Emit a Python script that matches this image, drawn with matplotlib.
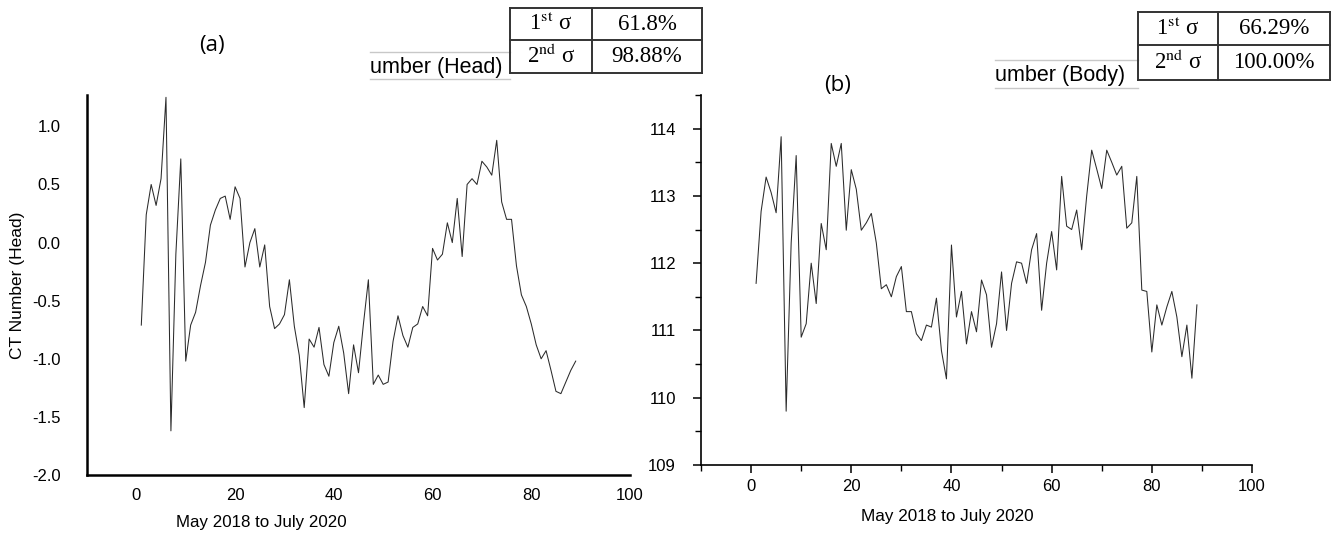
import matplotlib
matplotlib.use("Agg")
import matplotlib.pyplot as plt
from matplotlib.lines import Line2D
from matplotlib.ticker import MultipleLocator

plt.rcParams['font.family'] = ['Liberation Sans', 'DejaVu Sans']
plt.rcParams['mathtext.fontset'] = 'stix'

# ---------------- data ----------------
months = list(range(1, 90))

head_ct = [-0.71, 0.24, 0.50, 0.32, 0.55, 1.25, -1.62, -0.10, 0.72, -1.02,
           -0.71, -0.60, -0.37, -0.17, 0.15, 0.28, 0.38, 0.40, 0.20, 0.48,
           0.38, -0.21, 0.00, 0.12, -0.21, -0.02, -0.55, -0.74, -0.70, -0.62,
           -0.32, -0.72, -0.97, -1.42, -0.83, -0.90, -0.73, -1.05, -1.15, -0.86,
           -0.72, -0.95, -1.30, -0.88, -1.12, -0.70, -0.32, -1.22, -1.14, -1.22,
           -1.20, -0.85, -0.63, -0.80, -0.90, -0.73, -0.70, -0.55, -0.63, -0.05,
           -0.15, -0.10, 0.17, 0.00, 0.38, -0.12, 0.50, 0.55, 0.50, 0.70,
           0.65, 0.58, 0.88, 0.35, 0.20, 0.20, -0.20, -0.45, -0.55, -0.70,
           -0.88, -1.00, -0.93, -1.10, -1.28, -1.30, -1.20, -1.10, -1.02]

body_ct = [111.70, 112.77, 113.28, 113.05, 112.75, 113.88, 109.80, 112.30, 113.60, 110.90,
           111.10, 112.00, 111.40, 112.59, 112.20, 113.78, 113.44, 113.78, 112.49, 113.39,
           113.10, 112.49, 112.60, 112.74, 112.30, 111.62, 111.68, 111.50, 111.80, 111.95,
           111.28, 111.28, 110.95, 110.85, 111.08, 111.05, 111.48, 110.70, 110.28, 112.27,
           111.20, 111.58, 110.80, 111.28, 110.98, 111.75, 111.53, 110.75, 111.10, 111.87,
           111.00, 111.70, 112.02, 112.00, 111.70, 112.20, 112.44, 111.30, 112.00, 112.47,
           111.90, 113.29, 112.55, 112.50, 112.79, 112.20, 113.00, 113.68, 113.40, 113.11,
           113.68, 113.50, 113.31, 113.44, 112.52, 112.60, 113.29, 111.60, 111.58, 110.68,
           111.38, 111.08, 111.35, 111.58, 111.20, 110.61, 111.08, 110.29, 111.38]

x_label = "May 2018 to July 2020"
y_label_head = "CT Number (Head)"
head_table = [["1$^{\\rm st}$ σ", "61.8%"], ["2$^{\\rm nd}$ σ", "98.88%"]]
body_table = [["1$^{\\rm st}$ σ", "66.29%"], ["2$^{\\rm nd}$ σ", "100.00%"]]

# ---------------- figure ----------------
W, H = 1333, 535
fig = plt.figure(figsize=(W / 100, H / 100), dpi=100)


def fx(px):
    return px / W


def fy(py):
    return 1 - py / H


line_kw = dict(color='#2b2b2b', lw=0.75)

# ----- panel (a) -----
axa = fig.add_axes([fx(87), fy(475), fx(630) - fx(87), fy(95) - fy(475)])
axa.plot(months, head_ct, **line_kw)
axa.set_xlim(-10, 100)
axa.set_ylim(-2.0, 1.27)
axa.set_xticks([0, 20, 40, 60, 80, 100])
axa.set_yticks([-2.0, -1.5, -1.0, -0.5, 0.0, 0.5, 1.0])
axa.set_yticklabels(["-2.0", "-1.5", "-1.0", "-0.5", "0.0", "0.5", "1.0"])
for s in ['top', 'right']:
    axa.spines[s].set_visible(False)
for s in ['left', 'bottom']:
    axa.spines[s].set_linewidth(1.8)
axa.tick_params(axis='both', length=0, labelsize=12)
axa.tick_params(axis='y', pad=19)
axa.tick_params(axis='x', pad=9)

fig.text(fx(261), fy(522), x_label, ha='center', va='center', fontsize=12.2)
fig.text(fx(18), fy(285), y_label_head, ha='center', va='center',
         rotation=90, fontsize=12.5)

# ----- panel (b) -----
axb = fig.add_axes([fx(701), fy(465), fx(1252) - fx(701), fy(95) - fy(465)])
axb.plot(months, body_ct, **line_kw)
axb.set_xlim(-10, 100)
axb.set_ylim(109, 114.5)
axb.set_xticks([0, 20, 40, 60, 80, 100])
axb.xaxis.set_minor_locator(MultipleLocator(10))
axb.yaxis.set_major_locator(MultipleLocator(1))
axb.yaxis.set_minor_locator(MultipleLocator(0.5))
for s in ['top', 'right']:
    axb.spines[s].set_visible(False)
for s in ['left', 'bottom']:
    axb.spines[s].set_linewidth(1.2)
axb.tick_params(axis='both', which='major', length=6, width=1.1,
                direction='out', labelsize=12)
axb.tick_params(axis='both', which='minor', length=4, width=1.0, direction='out')
axb.tick_params(axis='y', which='major', pad=12)
axb.tick_params(axis='x', which='major', pad=4)

fig.text(fx(947), fy(516), x_label, ha='center', va='center', fontsize=12.3)

# ----- panel letters -----
fig.text(fx(212), fy(45), "(a)", ha='center', va='center', fontsize=16,
         family=['Open Sans', 'DejaVu Sans'])
fig.text(fx(838), fy(85), "(b)", ha='center', va='center', fontsize=16,
         family=['Open Sans', 'DejaVu Sans'])


# ----- cropped label strips -----
def strip(x0, x1, ytop, ybot, text, ytext):
    for yy in (ytop, ybot):
        fig.add_artist(Line2D([fx(x0), fx(x1)], [fy(yy), fy(yy)],
                              color='#c8c8c8', lw=1.0))
    fig.text(fx(x0), fy(ytext), text, ha='left', va='center', fontsize=15.5)


strip(370, 510, 52, 79, "umber (Head)", 67)
strip(995, 1138, 60, 88, "umber (Body)", 75)


# ----- tables -----
def table(x0, xm, x1, y0, ym, y1, rows):
    col = '#333333'
    lw = 1.4
    for yy in (y0, ym, y1):
        fig.add_artist(Line2D([fx(x0), fx(x1)], [fy(yy), fy(yy)], color=col, lw=lw))
    for xx in (x0, xm, x1):
        fig.add_artist(Line2D([fx(xx), fx(xx)], [fy(y0), fy(y1)], color=col, lw=lw))
    for (a, b), (ya, yb) in zip(rows, [(y0, ym), (ym, y1)]):
        yc = (ya + yb) / 2
        fig.text(fx((x0 + xm) / 2), fy(yc), a, ha='center', va='center',
                 fontsize=16.5, family=['Liberation Serif', 'DejaVu Serif'])
        fig.text(fx((xm + x1) / 2), fy(yc), b, ha='center', va='center',
                 fontsize=16.5, family=['Liberation Serif', 'DejaVu Serif'])


table(510, 592, 702, 8, 40, 73, head_table)
table(1138, 1218, 1330, 12, 45, 80, body_table)

fig.savefig("out.png", dpi=100)
